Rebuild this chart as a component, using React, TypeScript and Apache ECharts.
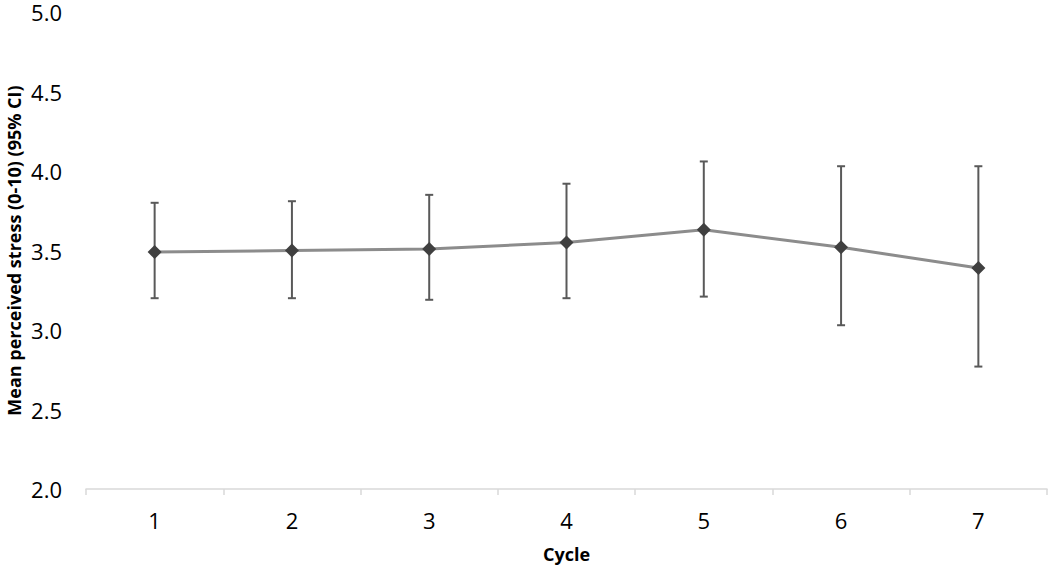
import React, { useEffect, useRef } from "react";
import * as echarts from "echarts";

const cycles = ["1", "2", "3", "4", "5", "6", "7"];
const means = [3.49, 3.5, 3.51, 3.55, 3.63, 3.52, 3.39];
const lower = [3.2, 3.2, 3.19, 3.2, 3.21, 3.03, 2.77];
const upper = [3.8, 3.81, 3.85, 3.92, 4.06, 4.03, 4.03];

const FONT = "'Open Sans', 'Liberation Sans', sans-serif";

export default function App() {
  const ref = useRef<HTMLDivElement>(null);
  useEffect(() => {
    if (!ref.current) return;
    const chart = echarts.init(ref.current, null, { renderer: "svg" });
    const errData = cycles.map((c, i) => [i, lower[i], upper[i]]);
    chart.setOption({
      animation: false,
      grid: { left: 86, right: 3, top: 12, bottom: 81, outerBoundsMode: "none", containLabel: false },
      xAxis: {
        type: "category",
        data: cycles,
        boundaryGap: true,
        name: "Cycle",
        nameLocation: "middle",
        nameGap: 56,
        nameMoveOverlap: false,
        nameTextStyle: { fontFamily: FONT, fontSize: 18, fontWeight: "bold", color: "#000" },
        axisLine: { lineStyle: { color: "#d9d9d9", width: 1.5 } },
        axisTick: { show: true, length: 6, lineStyle: { color: "#d9d9d9", width: 1.5 } },
        axisLabel: { fontFamily: FONT, fontSize: 22, color: "#000", margin: 20 },
        splitLine: { show: false },
      },
      yAxis: {
        type: "value",
        min: 2,
        max: 5,
        interval: 0.5,
        name: "Mean perceived stress (0-10) (95% CI)",
        nameLocation: "middle",
        nameGap: 63,
        nameMoveOverlap: false,
        nameTextStyle: { fontFamily: FONT, fontSize: 18, fontWeight: "bold", color: "#000" },
        axisLine: { show: false },
        axisTick: { show: false },
        splitLine: { show: false },
        axisLabel: {
          fontFamily: FONT,
          fontSize: 22,
          color: "#000",
          margin: 24,
          padding: [0, 0, 3, 0],
          formatter: (v: number) => v.toFixed(1),
        },
      },
      series: [
        {
          type: "custom",
          data: errData,
          z: 1,
          renderItem: (params: any, api: any) => {
            const x = api.value(0);
            const lo = api.coord([x, api.value(1)]);
            const hi = api.coord([x, api.value(2)]);
            const cw = 4;
            const style = { stroke: "#595959", lineWidth: 2 };
            return {
              type: "group",
              children: [
                { type: "line", shape: { x1: lo[0], y1: lo[1], x2: hi[0], y2: hi[1] }, style },
                { type: "line", shape: { x1: hi[0] - cw, y1: hi[1], x2: hi[0] + cw, y2: hi[1] }, style },
                { type: "line", shape: { x1: lo[0] - cw, y1: lo[1], x2: lo[0] + cw, y2: lo[1] }, style },
              ],
            };
          },
        },
        {
          type: "line",
          data: means,
          z: 3,
          symbol: "diamond",
          symbolSize: 14,
          lineStyle: { color: "#8c8c8c", width: 3 },
          itemStyle: { color: "#404040" },
        },
      ],
    });
    return () => chart.dispose();
  }, []);
  return (
    <div
      ref={ref}
      style={{ position: "absolute", left: 0, top: 0, width: 1050, height: 570 }}
    />
  );
}
